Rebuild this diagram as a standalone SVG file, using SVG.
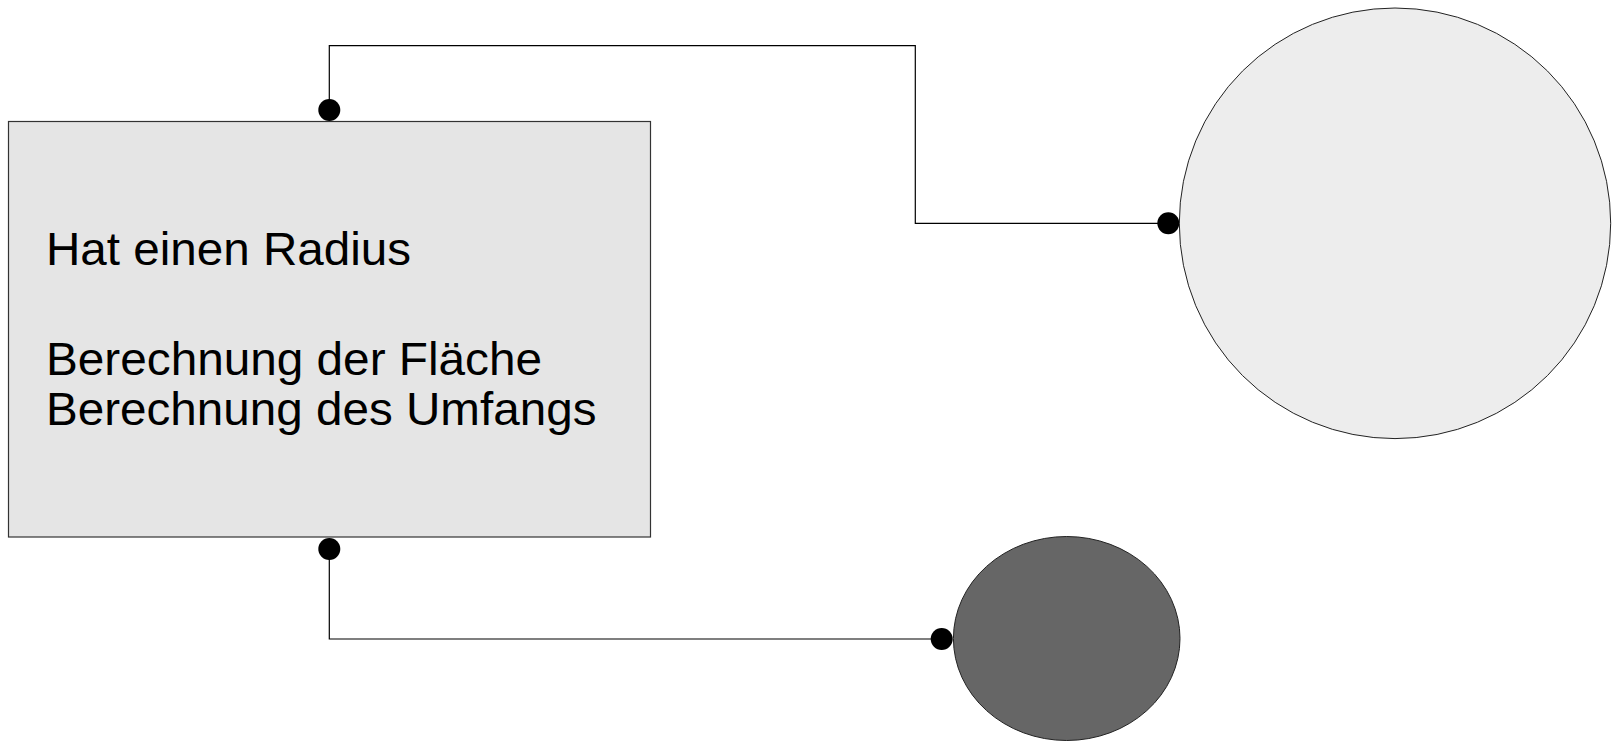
<svg xmlns="http://www.w3.org/2000/svg" width="1612" height="741" viewBox="0 0 1612 741">
<defs>
<style>
.conn{fill:none;stroke:#000;stroke-width:1.2}
.dot{fill:#000}
.lbl{font-family:"Liberation Sans",Arial,sans-serif;font-size:46.5px;fill:#000}
</style>
</defs>
<rect width="1612" height="741" fill="#fff"/>
<g id="class-box">
<rect x="8.5" y="121.5" width="642" height="415.5" fill="#e5e5e5" stroke="#333" stroke-width="1.2"/>
<text class="lbl" x="46" y="265" textLength="365" lengthAdjust="spacingAndGlyphs">Hat einen Radius</text>
<text class="lbl" x="46" y="375" textLength="496" lengthAdjust="spacingAndGlyphs">Berechnung der Fläche</text>
<text class="lbl" x="46" y="425" textLength="550.5" lengthAdjust="spacingAndGlyphs">Berechnung des Umfangs</text>
</g>
<g id="big-circle">
<ellipse cx="1395" cy="223.3" rx="215.7" ry="215.3" fill="#ededed" stroke="#222" stroke-width="1"/>
</g>
<g id="dark-ellipse">
<ellipse cx="1066.7" cy="638.5" rx="113.3" ry="102" fill="#666" stroke="#222" stroke-width="1"/>
</g>
<g id="connectors">
<polyline class="conn" points="329.3,110 329.3,45.7 915.3,45.7 915.3,223.3 1168.3,223.3"/>
<circle class="dot" cx="329.3" cy="110" r="11"/>
<circle class="dot" cx="1168.3" cy="223.3" r="11"/>
<polyline class="conn" points="329.3,549 329.3,639 941.7,639"/>
<circle class="dot" cx="329.3" cy="549" r="11"/>
<circle class="dot" cx="941.7" cy="639" r="11"/>
</g>
</svg>
